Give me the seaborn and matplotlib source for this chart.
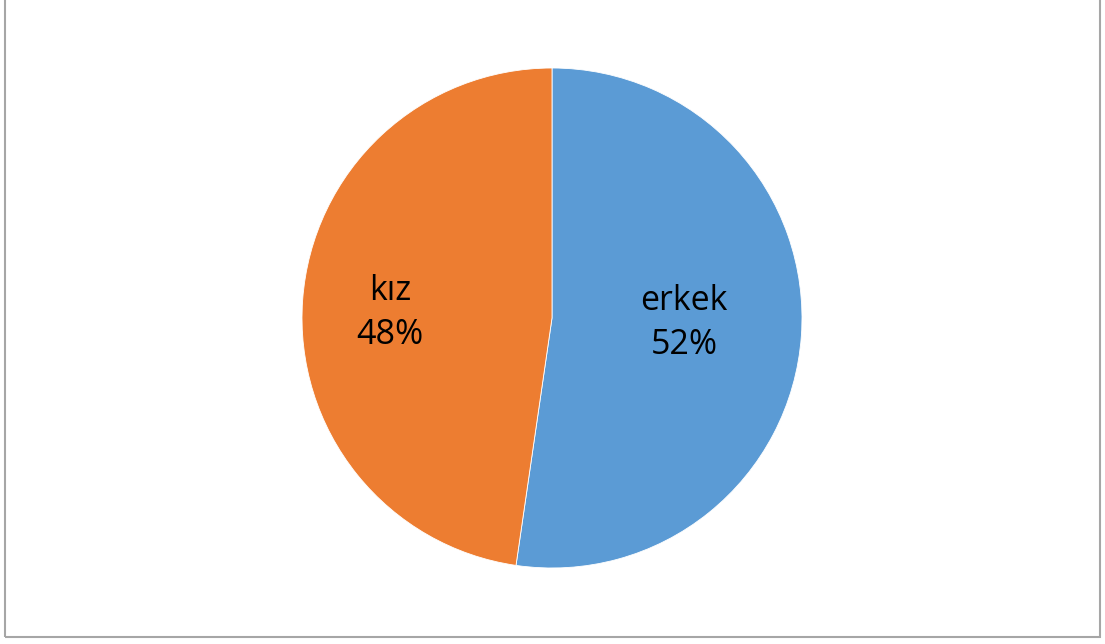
import matplotlib
matplotlib.use("Agg")
import matplotlib.pyplot as plt
from matplotlib.patches import Rectangle
import numpy as np
import seaborn as sns

sns.set_theme(style="white")
plt.rcParams['font.family'] = ['Open Sans', 'DejaVu Sans']

# data
labels = ["erkek", "kız"]
values = [52.3, 47.7]
colors = ["#5B9BD5", "#ED7D31"]
label_dist = [0.53, 0.65]
label_dy = [0.018, -0.028]

fig = plt.figure(figsize=(11.05, 6.44), dpi=100)
W, H = 1105, 644
cx, cy, r = 552, 318, 250
ax = fig.add_axes([(cx - r) / W, (H - cy - r) / H, 2 * r / W, 2 * r / H])

wedges, _ = ax.pie(values, colors=colors, startangle=90, counterclock=False,
                   wedgeprops=dict(edgecolor="white", linewidth=0.6))
total = sum(values)
for w, lab, v, d, dy in zip(wedges, labels, values, label_dist, label_dy):
    ang = np.deg2rad((w.theta1 + w.theta2) / 2)
    ax.text(d * np.cos(ang), d * np.sin(ang) + dy, f"{lab}\n{v / total:.0%}",
            ha="center", va="center", fontsize=24.5, linespacing=1.38, color="black")
ax.set_xlim(-1, 1)
ax.set_ylim(-1, 1)
ax.axis("off")

# chart frame
fig.patches.append(Rectangle((5 / W, 7 / H), 1095 / W, 1.0, transform=fig.transFigure,
                             fill=False, edgecolor="#A6A6A6", linewidth=1.5))

fig.savefig("out.png", dpi=100, facecolor="white")
